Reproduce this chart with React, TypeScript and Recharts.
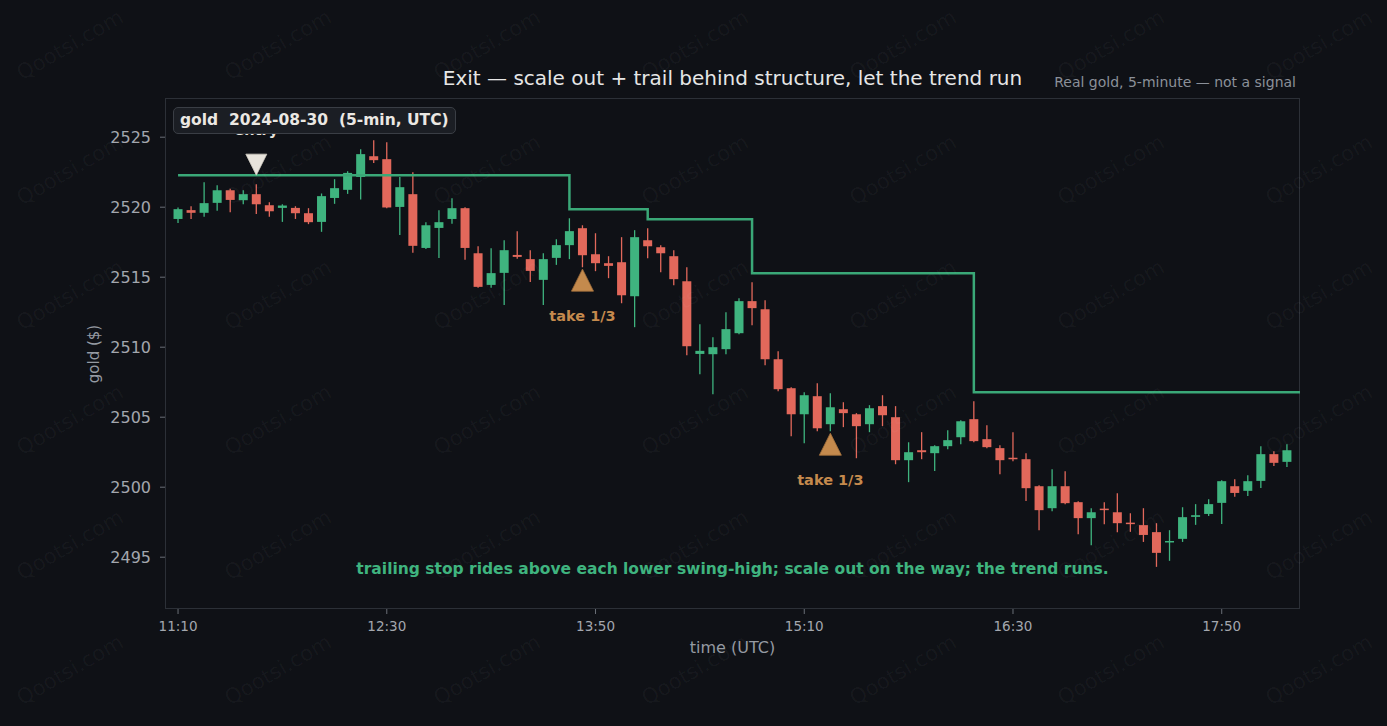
import React from "react"
import { ComposedChart, Bar, Line, Scatter, XAxis, YAxis } from "recharts"

// 5-minute gold candles, 11:10 .. 18:15 UTC, 2024-08-30
const opens = [
  2519.16, 2519.79, 2519.6, 2520.31, 2521.21, 2520.5, 2520.93, 2520.14, 2519.95, 2519.95,
  2519.57, 2518.95, 2520.66, 2521.24, 2522.16, 2523.64, 2523.43, 2520.02, 2520.93, 2517.09,
  2518.52, 2519.16, 2519.93, 2516.71, 2514.45, 2515.31, 2516.59, 2516.29, 2514.81, 2516.38,
  2517.29, 2518.5, 2516.64, 2516.0, 2516.07, 2513.64, 2517.64, 2517.14, 2516.5, 2514.71,
  2509.52, 2509.5, 2509.86, 2511.0, 2513.29, 2512.71, 2509.14, 2507.07, 2505.21, 2506.5,
  2504.5, 2505.57, 2505.21, 2504.5, 2505.79, 2505.0, 2501.93, 2502.64, 2502.43, 2502.93,
  2503.57, 2504.86, 2503.43, 2502.79, 2502.1, 2502.0, 2500.07, 2498.5, 2500.07, 2498.93,
  2497.79, 2498.45, 2498.21, 2497.44, 2497.29, 2496.79, 2496.07, 2496.31, 2497.88, 2498.09,
  2498.88, 2500.07, 2499.74, 2500.45, 2502.36, 2501.81,
]
const highs = [
  2519.98, 2520.07, 2521.79, 2521.57, 2521.31, 2521.21, 2521.64, 2520.36, 2520.21, 2520.07,
  2519.93, 2520.98, 2522.0, 2522.57, 2524.14, 2524.79, 2524.64, 2522.16, 2522.5, 2518.93,
  2519.79, 2520.64, 2520.0, 2517.21, 2517.07, 2517.64, 2518.29, 2516.93, 2516.71, 2517.71,
  2519.21, 2518.71, 2518.14, 2516.5, 2517.86, 2518.36, 2518.5, 2517.29, 2516.93, 2515.71,
  2511.64, 2510.71, 2512.5, 2513.5, 2514.64, 2513.36, 2509.71, 2507.14, 2506.79, 2507.43,
  2506.71, 2506.07, 2505.29, 2505.86, 2506.57, 2505.79, 2503.21, 2503.93, 2503.0, 2504.07,
  2504.79, 2506.14, 2504.43, 2503.0, 2503.93, 2502.43, 2500.14, 2501.29, 2501.14, 2499.0,
  2498.5, 2498.93, 2499.57, 2498.14, 2498.5, 2497.43, 2496.93, 2498.57, 2498.79, 2499.14,
  2500.5, 2500.57, 2500.86, 2502.93, 2502.57, 2503.07,
]
const lows = [
  2518.88, 2519.16, 2519.31, 2519.74, 2519.64, 2520.21, 2519.52, 2519.31, 2518.95, 2519.16,
  2518.79, 2518.24, 2520.24, 2520.95, 2520.55, 2523.16, 2519.93, 2518.02, 2516.74, 2517.02,
  2516.38, 2518.81, 2516.24, 2514.24, 2514.24, 2513.02, 2516.31, 2514.66, 2513.02, 2515.88,
  2516.29, 2515.71, 2515.43, 2514.93, 2513.14, 2511.43, 2516.36, 2515.36, 2514.43, 2509.43,
  2508.07, 2506.64, 2509.5, 2510.93, 2511.57, 2508.71, 2506.86, 2503.64, 2503.14, 2504.0,
  2504.0, 2504.29, 2502.07, 2503.93, 2504.36, 2501.64, 2500.36, 2502.0, 2501.16, 2502.71,
  2503.07, 2503.21, 2502.79, 2500.93, 2501.86, 2499.02, 2496.93, 2498.29, 2498.79, 2496.64,
  2495.86, 2497.36, 2496.79, 2496.81, 2496.09, 2494.31, 2494.74, 2496.09, 2497.31, 2497.95,
  2497.38, 2499.31, 2499.38, 2499.95, 2501.52, 2501.45,
]
const closes = [
  2519.86, 2519.6, 2520.29, 2521.21, 2520.52, 2520.93, 2520.21, 2519.71, 2520.12, 2519.57,
  2518.93, 2520.79, 2521.36, 2522.45, 2523.79, 2523.36, 2519.98, 2521.43, 2517.24, 2518.71,
  2518.93, 2519.93, 2517.09, 2514.31, 2515.29, 2516.93, 2516.45, 2515.45, 2516.29, 2517.29,
  2518.29, 2516.57, 2516.0, 2515.81, 2513.71, 2517.86, 2517.21, 2516.71, 2514.86, 2510.07,
  2509.74, 2510.0, 2511.29, 2513.29, 2512.79, 2509.14, 2507.0, 2505.21, 2506.57, 2504.21,
  2505.71, 2505.29, 2504.36, 2505.64, 2505.14, 2501.93, 2502.5, 2502.5, 2502.93, 2503.36,
  2504.71, 2503.29, 2502.86, 2501.93, 2502.0, 2499.93, 2498.36, 2500.07, 2498.86, 2497.79,
  2498.21, 2498.38, 2497.43, 2497.39, 2496.59, 2495.31, 2496.14, 2497.86, 2498.0, 2498.79,
  2500.43, 2499.59, 2500.43, 2502.36, 2501.74, 2502.64,
]

// trailing stop: level changes at these bar indices (last one runs to the right edge)
const stopStarts = [0, 30, 36, 44, 61]
const stopLevels = [2522.29, 2519.86, 2519.14, 2515.29, 2506.79]

const entryMarks = [{ i: 6, y: 2523.04 }]
const takeMarks = [
  { i: 31, y: 2514.79 },
  { i: 50, y: 2503.07 },
]

const xTicks = [0, 16, 32, 48, 64, 80]
const xTickLabels = ["11:10", "12:30", "13:50", "15:10", "16:30", "17:50"]
const yTicks = [2495, 2500, 2505, 2510, 2515, 2520, 2525]

const BG = "#0f1116"
const GREEN = "#3fb47f"
const STOP = "#3aa877"
const RED = "#e2685b"
const ORANGE = "#c48a4d"
const FONT = "'DejaVu Sans', sans-serif"

const stopAt = (i: number) => {
  let v = stopLevels[0]
  stopStarts.forEach((s, k) => {
    if (i >= s) v = stopLevels[k]
  })
  return v
}

const data: any[] = opens.map((o, i) => ({
  i,
  o,
  h: highs[i],
  l: lows[i],
  c: closes[i],
  range: [lows[i], highs[i]],
  stop: stopAt(i),
}))
data.push({ i: opens.length, stop: stopAt(opens.length) })

const Candle = (props: any) => {
  const { x, y, width, height, payload } = props
  if (!payload || payload.o == null) return null
  const { o, h, l, c } = payload
  const top = Math.min(y, y + height)
  const span = Math.abs(height)
  const k = h - l > 0 ? span / (h - l) : 0
  const py = (v: number) => top + (h - v) * k
  const color = c >= o ? GREEN : RED
  const cx = x + width / 2
  const bt = py(Math.max(o, c))
  const bb = py(Math.min(o, c))
  const bh = Math.max(bb - bt, 1.5)
  return (
    <g>
      <line x1={cx} x2={cx} y1={py(h)} y2={py(l)} stroke={color} strokeWidth={1.3} />
      <rect x={cx - 4.5} y={(bt + bb) / 2 - bh / 2} width={9} height={bh} fill={color} />
    </g>
  )
}

const EntryMark = (props: any) => {
  const { cx, cy } = props
  return (
    <g>
      <text x={cx} y={cy - 29.5} textAnchor="middle" fill="#e8e4dc" fontSize={14.5} fontWeight="bold" fontFamily={FONT}>
        entry
      </text>
      <path d={`M${cx - 10.5},${cy - 10.5} L${cx + 10.5},${cy - 10.5} L${cx},${cy + 10.5} Z`} fill="#e8e4dc" stroke="#cfcac0" strokeWidth={0.8} />
    </g>
  )
}

const TakeMark = (props: any) => {
  const { cx, cy } = props
  return (
    <g>
      <path d={`M${cx},${cy - 11} L${cx + 11},${cy + 11} L${cx - 11},${cy + 11} Z`} fill={ORANGE} stroke="#a8743e" strokeWidth={0.8} />
      <text x={cx} y={cy + 40.5} textAnchor="middle" fill={ORANGE} fontSize={14.5} fontWeight="bold" fontFamily={FONT}>
        take 1/3
      </text>
    </g>
  )
}

const wmCols = [70, 278, 487, 695, 903, 1111, 1319]
const wmRows = [46, 171, 296, 421, 546, 671]

export default function App() {
  return (
    <div style={{ position: "absolute", left: 0, top: 0, width: 1387, height: 726, background: BG, fontFamily: FONT, overflow: "hidden" }}>
      <div style={{ position: "absolute", left: 165, top: 98, width: 1135, height: 511, border: "1px solid #2c3037", boxSizing: "border-box" }} />

      <ComposedChart width={1387} height={726} data={data} margin={{ top: 98, right: 87, bottom: 77, left: 105 }}>
        <XAxis
          dataKey="i"
          type="number"
          domain={[-1, 86]}
          ticks={xTicks}
          tickFormatter={(v: number) => xTickLabels[xTicks.indexOf(v)] ?? ""}
          axisLine={false}
          tickSize={5}
          tickMargin={7}
          tickLine={{ stroke: "#6a6f77" }}
          tick={{ fill: "#a3a7ae", fontSize: 13.5, fontFamily: FONT }}
          height={40}
          allowDataOverflow
        />
        <YAxis
          type="number"
          domain={[2491.3, 2527.8]}
          ticks={yTicks}
          axisLine={false}
          tickSize={5}
          tickMargin={9}
          tickLine={{ stroke: "#6a6f77" }}
          tick={{ fill: "#a3a7ae", fontSize: 16, fontFamily: FONT }}
          width={60}
          allowDataOverflow
        />
        <Line dataKey="stop" type="stepAfter" stroke={STOP} strokeWidth={2.5} dot={false} activeDot={false} isAnimationActive={false} />
        <Bar dataKey="range" barSize={9} shape={Candle} isAnimationActive={false} />
        <Scatter data={entryMarks} dataKey="y" shape={EntryMark} isAnimationActive={false} />
        <Scatter data={takeMarks} dataKey="y" shape={TakeMark} isAnimationActive={false} />
      </ComposedChart>

      {wmRows.map((y) =>
        wmCols.map((x) => (
          <div
            key={`${x}-${y}`}
            style={{
              position: "absolute",
              left: x - 65,
              top: y - 13,
              width: 130,
              textAlign: "center",
              fontSize: 21,
              color: "rgba(255,255,255,0.04)",
              transform: "rotate(-30deg)",
              pointerEvents: "none",
            }}
          >
            Qootsi.com
          </div>
        ))
      )}

      <div style={{ position: "absolute", left: 165, width: 1135, top: 66, textAlign: "center", fontSize: 20, color: "#e6e6e6" }}>
        Exit — scale out + trail behind structure, let the trend run
      </div>
      <div style={{ position: "absolute", right: 91, top: 74, fontSize: 14, color: "#8b9099" }}>Real gold, 5-minute — not a signal</div>

      <div
        style={{
          position: "absolute",
          left: 173,
          top: 107,
          height: 27,
          boxSizing: "border-box",
          padding: "0 6px",
          lineHeight: "25px",
          background: "#1b1e24",
          border: "1px solid #3a3e45",
          borderRadius: 5,
          color: "#ebe8e3",
          fontSize: 15.5,
          fontWeight: "bold",
          whiteSpace: "pre",
        }}
      >
        {"gold  2024-08-30  (5-min, UTC)"}
      </div>

      <div style={{ position: "absolute", left: 165, width: 1135, top: 560, textAlign: "center", fontSize: 15.5, fontWeight: "bold", color: GREEN }}>
        trailing stop rides above each lower swing-high; scale out on the way; the trend runs.
      </div>

      <div style={{ position: "absolute", left: 165, width: 1135, top: 638, textAlign: "center", fontSize: 16, color: "#959aa2" }}>time (UTC)</div>
      <div
        style={{
          position: "absolute",
          left: 94 - 50,
          top: 354 - 10,
          width: 100,
          textAlign: "center",
          fontSize: 15,
          lineHeight: "20px",
          color: "#959aa2",
          transform: "rotate(-90deg)",
        }}
      >
        gold ($)
      </div>
    </div>
  )
}
